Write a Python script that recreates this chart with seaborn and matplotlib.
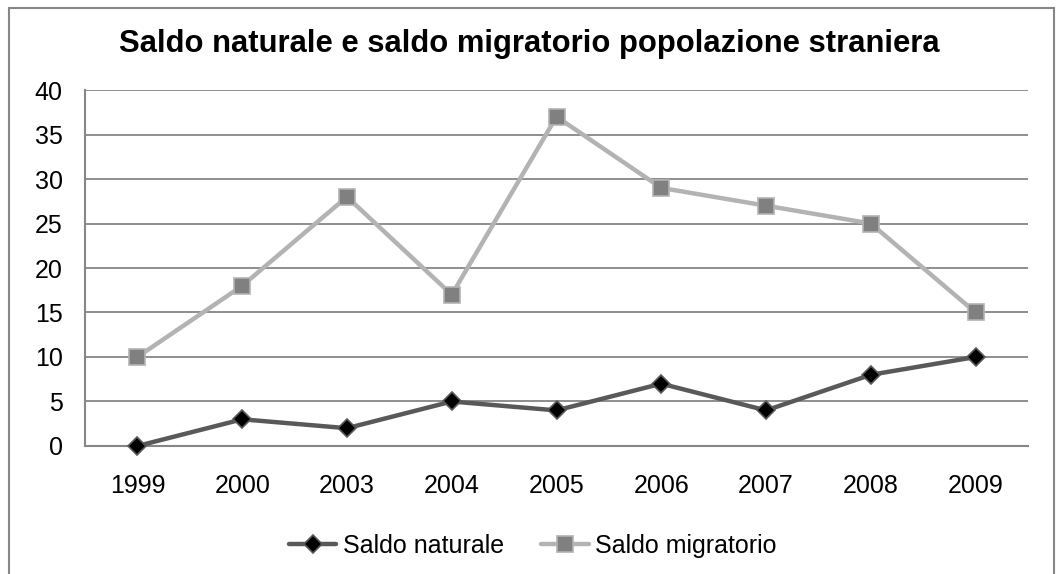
import matplotlib
matplotlib.use("Agg")
import matplotlib.pyplot as plt
from matplotlib.patches import Rectangle
import seaborn as sns
import pandas as pd

# dati
anni = ["1999", "2000", "2003", "2004", "2005", "2006", "2007", "2008", "2009"]
saldo_naturale = [0, 3, 2, 5, 4, 7, 4, 8, 10]
saldo_migratorio = [10, 18, 28, 17, 37, 29, 27, 25, 15]

df = pd.DataFrame({
    "anno": anni * 2,
    "valore": saldo_naturale + saldo_migratorio,
    "serie": ["Saldo naturale"] * len(anni) + ["Saldo migratorio"] * len(anni),
})

sns.set_theme(style="white")
plt.rcParams["font.family"] = ["Liberation Sans", "DejaVu Sans"]
plt.rcParams["text.color"] = "black"

fig = plt.figure(figsize=(10.59, 5.74), dpi=100)
ax = fig.add_axes([0.0803, 0.2230, 0.8904, 0.6202])

grid_col = "#868686"
for y in range(5, 45, 5):
    ax.axhline(y, color=grid_col, lw=1.3, zorder=0)

stili = {
    "Saldo naturale": dict(color="#595959", marker="D", markersize=9,
                           markerfacecolor="black", markeredgecolor="#595959",
                           markeredgewidth=1.2),
    "Saldo migratorio": dict(color="#b3b3b3", marker="s", markersize=11,
                             markerfacecolor="#808080", markeredgecolor="#b3b3b3",
                             markeredgewidth=1.2),
}
for nome, st in stili.items():
    sns.lineplot(data=df[df["serie"] == nome], x="anno", y="valore", ax=ax,
                 label=nome, linewidth=3.2, zorder=3, clip_on=False, **st)

ax.set_xlim(-0.5, len(anni) - 0.5)
ax.set_ylim(0, 40)
ax.set_yticks(range(0, 45, 5))
ax.set_xlabel("")
ax.set_ylabel("")
ax.tick_params(axis="both", labelsize=18, length=0, colors="black")
ax.tick_params(axis="x", pad=20)
ax.tick_params(axis="y", pad=16)

for s in ["top", "right"]:
    ax.spines[s].set_visible(False)
for s in ["left", "bottom"]:
    ax.spines[s].set_color(grid_col)
    ax.spines[s].set_linewidth(1.5)

fig.text(0.5, 0.924, "Saldo naturale e saldo migratorio popolazione straniera",
         ha="center", va="center", fontsize=22.3, fontweight="bold", color="black")

leg = ax.legend(loc="center", bbox_to_anchor=(0.503, 0.049), bbox_transform=fig.transFigure,
                ncol=2, frameon=False, fontsize=18, handlelength=1.9,
                handletextpad=0.25, columnspacing=1.5)
for t in leg.get_texts():
    t.set_color("black")

# bordo esterno del grafico
fig.patches.append(Rectangle((9 / 1059, -0.05), 1045 / 1059, 1.05 - 8 / 574,
                             transform=fig.transFigure, fill=False,
                             edgecolor=grid_col, linewidth=1.5))

fig.savefig("out.png", dpi=100)
